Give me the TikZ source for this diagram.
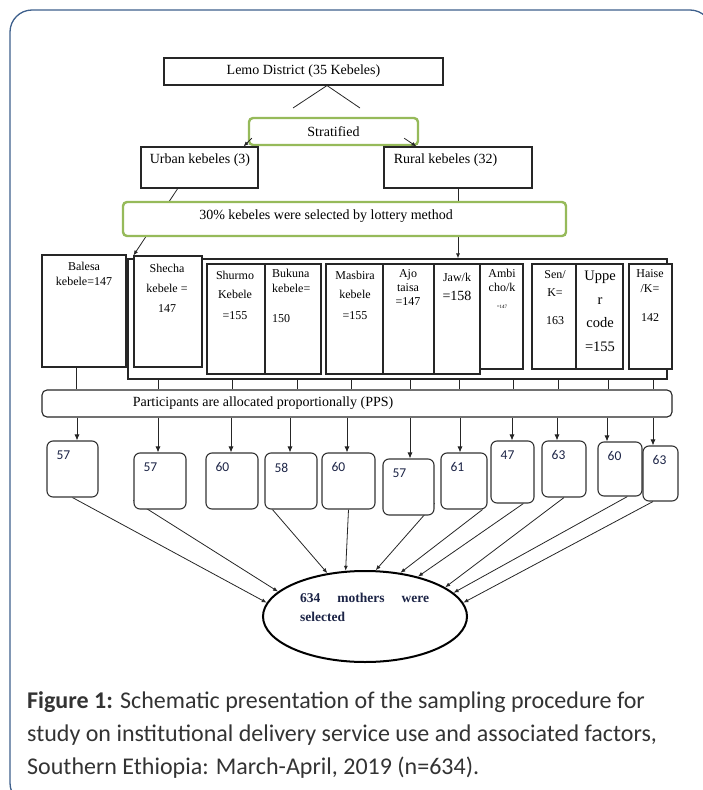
\documentclass[tikz,border=0pt]{standalone}
\usepackage{fontspec}
\setmainfont{Liberation Serif}
\newfontfamily\capfont{Carlito}
\usetikzlibrary{positioning,shapes.geometric,arrows.meta,calc,backgrounds}
\definecolor{framecol}{RGB}{62,96,140}
\definecolor{grn}{RGB}{150,186,90}
\definecolor{navy}{RGB}{28,36,70}
\tikzset{
  box/.style={draw=black!85,line width=1.1pt,fill=white,inner sep=0pt},
  gbox/.style={draw=grn,line width=2.4pt,rounded corners=4pt,fill=white,inner sep=0pt},
  cbox/.style={draw=black!80,line width=1.1pt,rounded corners=6pt,fill=white,inner sep=0pt},
  mtxt/.style={font=\fontsize{14}{16}\selectfont,inner sep=0pt,text=black},
  ktxt/.style={font=\fontsize{12}{15}\selectfont,align=center,inner sep=0pt,text=black},
  ntxt/.style={font=\capfont\fontsize{13.5}{15}\selectfont,text=navy,inner sep=0pt,anchor=west},
  conn/.style={draw=black!85,line width=0.8pt},
}

\begin{document}
\begin{tikzpicture}[x=1pt,y=-1pt,>={Latex[length=5pt,width=4pt]}]
	\useasboundingbox (0,0) rectangle (703,790);
	\draw[framecol,line width=1.3pt,rounded corners=22pt] (10,10) rectangle (712,805);

	% district and strata
	\node[box,minimum width=279,minimum height=27,mtxt] (lemo) at (303.5,71.5) {Lemo District (35 Kebeles)};
	\node[gbox,minimum width=169,minimum height=27,mtxt] (strat) at (333.5,131.5) {Stratified};
	\node[box,minimum width=117,minimum height=41] (urban) at (199.5,167.5) {};
	\node[mtxt] (urbanT) at (200,160) {Urban kebeles (3)};
	\node[box,minimum width=148,minimum height=41] (rural) at (458,167.5) {};
	\node[mtxt] (ruralT) at (445.5,160) {Rural kebeles (32)};
	\node[gbox,minimum width=443,minimum height=34] (lott) at (344.5,219) {};
	\node[mtxt] (lottT) at (326,216) {30\% kebeles were selected by lottery method};

	% selected kebeles
	\node[box,minimum width=84,minimum height=112] (balesa) at (84,311) {};
	\node[box,minimum width=539,minimum height=120] (cont) at (397.5,319) {};
	\node[box,minimum width=68,minimum height=111] (shecha) at (168,311.5) {};
	\node[box,minimum width=58,minimum height=110] (shurmo) at (236,319) {};
	\node[box,minimum width=56,minimum height=110] (bukuna) at (293,319) {};
	\node[box,minimum width=43,minimum height=105] (ambi) at (501.5,316.5) {};
	\node[box,minimum width=57,minimum height=110] (masbira) at (354.5,319) {};
	\node[box,minimum width=51,minimum height=110] (ajo) at (408.5,319) {};
	\node[box,minimum width=46,minimum height=110] (jaw) at (457,319) {};
	\node[box,minimum width=44,minimum height=105] (sen) at (554,316.5) {};
	\node[box,minimum width=47,minimum height=105] (upper) at (599.5,316.5) {};
	\node[box,minimum width=43,minimum height=105] (haise) at (650.5,316.5) {};

	\node[ktxt] (balesaT) at (84,274) {Balesa\\kebele=147};
	\node[ktxt] (shechaT) at (167,288) {Shecha\\[5pt]kebele =\\[5pt]147};
	\node[ktxt] (shurmoT) at (235,295) {Shurmo\\[4pt]Kebele\\[6pt]=155};
	\node[ktxt,align=left,anchor=west] (bukunaT) at (272,296) {Bukuna\\kebele=\\[15pt]150};
	\node[ktxt] (masbiraT) at (355,295) {Masbira\\[4pt]kebele\\[6pt]=155};
	\node[ktxt] (ajoT) at (408,288) {Ajo\\[-1pt]taisa\\[-1pt]=147};
	\node[ktxt] (jawT) at (457,286.5) {Jaw/k\\[4pt]\fontsize{14}{16}\selectfont =158};
	\node[ktxt] (ambiT) at (502,289) {Ambi\\[-1pt]cho/k\\[2pt]\fontsize{5}{6}\selectfont =147};
	\node[ktxt] (senT) at (555,298) {Sen/\\[3pt]K=\\[13pt]163};
	\node[ktxt,font=\fontsize{14.5}{23.5}\selectfont] (upperT) at (600,311.5) {Uppe\\r\\code\\=155};
	\node[ktxt] (haiseT) at (650,296) {Haise\\/K=\\[14pt]142};

	% allocation
	\node[box,rounded corners=5pt,minimum width=630,minimum height=27] (pps) at (357,403.5) {};
	\node[mtxt] (ppsT) at (263,403) {Participants are allocated proportionally (PPS)};

	\foreach \n/\x/\y/\w/\h/\v in {1/72.5/469/51/56/57, 2/160/481/52/56/57, 3/232/481/52/56/60,
		4/291/481/52/56/58, 5/348.5/481/53/56/60, 6/408.5/487/51/56/57, 7/464/481/46/56/61,
		8/512.5/472/43/62/47, 9/564/469/44/56/63, 10/620/469/44/54/60, 11/660.5/473.5/35/55/63} {
		\node[cbox,minimum width=\w,minimum height=\h] (c\n) at (\x,\y) {};
		\node[ntxt] (c\n t) at ($(c\n.north west)+(10,15)$) {\v};
	}

	\node[draw=black,line width=2pt,ellipse,minimum width=204,minimum height=91,inner sep=0pt] (ell) at (365,616.5) {};
	\node[anchor=west,align=left,inner sep=0pt,font=\bfseries\fontsize{13.5}{19}\selectfont,text=navy] (ellT) at (300,607) {\makebox[129pt][s]{634 mothers were}\\selected};

	% connectors
	\coordinate (apex) at ($(lemo.south)+(23.5,0)$);
	\coordinate (sl) at (293,108);
	\coordinate (sr) at (360,108);
	\draw[conn] (apex) -- (sl);
	\draw[conn] (apex) -- (sr);
	\draw[conn,->] ($(strat.south west)+(4,-8)$) -- ($(urban.north east)+(-15,0)$);
	\draw[conn,->] ($(strat.south east)+(-15,-8)$) -- ($(rural.north west)+(33,0)$);
	\begin{scope}[on background layer]
		\draw[conn,->] (urban.-136) -- (shecha.north west);
		\draw[conn,->] (rural.south) -- (rural.south |- cont.north);
		\foreach \k/\x in {balesa/76, cont/158, shurmo/232, bukuna/297, masbira/351, cont/410,
			jaw/459, ambi/513, sen/558, upper/608, haise/653}
			\draw[conn] (\x,0 |- \k.south) -- (\x,0 |- pps.north);
		\foreach \n/\x in {1/77, 2/158, 3/231, 4/290, 5/347, 6/410, 7/460, 8/512, 9/557, 10/607, 11/653}
			\draw[conn,->,>={Latex[length=6pt,width=5pt]}] (\x,0 |- pps.south) -- (\x,0 |- c\n.north);
		\foreach \a/\b in {c1.south/172, c2.216/164, c4.237/131, c5.south/113, c6.-32/77,
			c7.-57/51, c8.-71/37, c9.south/20, c10.-75/15, c11.-105/8}
			\draw[conn,->] (\a) -- (ell.\b);
	\end{scope}

	\node[anchor=north west,align=left,inner sep=0pt,font=\capfont\fontsize{24}{33}\selectfont,text=black!80] (cap) at (27,691) {\textbf{Figure 1:} Schematic presentation of the sampling procedure for\\study on institutional delivery service use and associated factors,\\Southern Ethiopia: March-April, 2019 (n=634).};
\end{tikzpicture}
\end{document}
